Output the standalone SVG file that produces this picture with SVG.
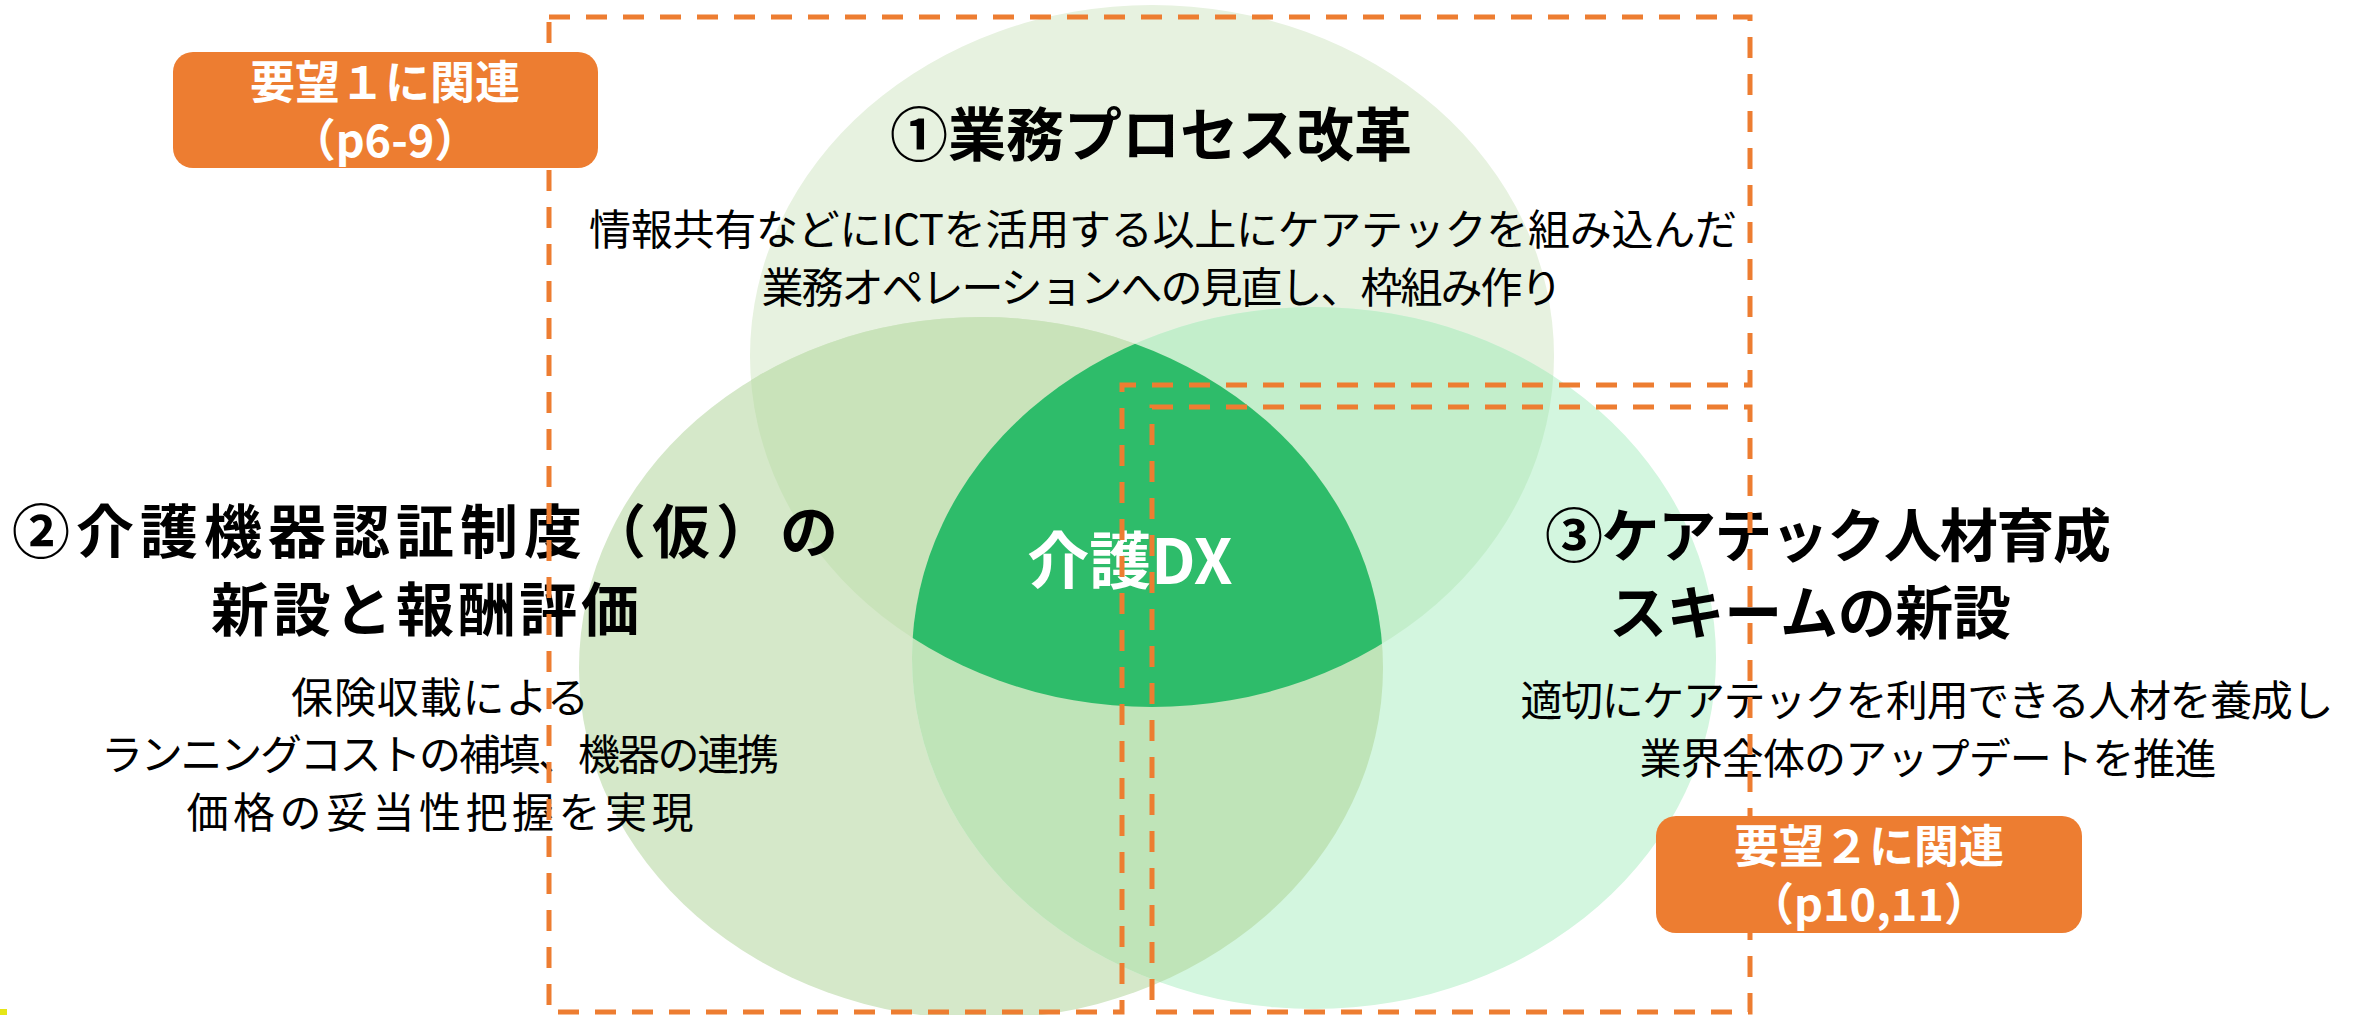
<svg xmlns="http://www.w3.org/2000/svg" xmlns:xlink="http://www.w3.org/1999/xlink" width="2359" height="1015" viewBox="0 0 2359 1015">
  <style>
    .title { font-family: "Noto Sans CJK JP", "Noto Sans", sans-serif; font-weight: 700; font-size: 58px; fill: #000000; text-anchor: middle; }
    .body { font-family: "Noto Sans CJK JP", "Noto Sans", sans-serif; font-weight: 400; font-size: 42px; fill: #000000; text-anchor: middle; }
    .badge-text { font-family: "Noto Sans CJK JP", "Noto Sans", sans-serif; font-weight: 700; font-size: 45px; fill: #FFFFFF; text-anchor: middle; }
    .center-text { font-family: "Noto Sans CJK JP", "Noto Sans", sans-serif; font-weight: 700; font-size: 62px; fill: #FFFFFF; text-anchor: middle; }
    .badge { fill: #ED7D31; }
    .group-outline { fill: none; stroke: #ED7D31; stroke-width: 5; stroke-dasharray: 21 16; }
  </style>
  <defs>
    <ellipse id="e1" cx="1152" cy="356" rx="402" ry="351"/>
    <ellipse id="e2" cx="981" cy="668" rx="402" ry="351"/>
    <ellipse id="e3" cx="1314" cy="658" rx="402" ry="351"/>
    <clipPath id="c1"><use xlink:href="#e1"/></clipPath>
    <clipPath id="c2"><use xlink:href="#e2"/></clipPath>
  </defs>
  <rect x="0" y="0" width="2359" height="1015" fill="#FFFFFF"/>

  <g id="venn">
    <use id="circle-1" xlink:href="#e1" fill="#E7F2E0"/>
    <use id="circle-2" xlink:href="#e2" fill="#D5E8C9"/>
    <use id="circle-3" xlink:href="#e3" fill="#D3F6DF"/>
    <g clip-path="url(#c1)"><use xlink:href="#e2" fill="#C9E3BA"/></g>
    <g clip-path="url(#c1)"><use xlink:href="#e3" fill="#C3EECB"/></g>
    <g clip-path="url(#c2)"><use xlink:href="#e3" fill="#BFE4B8"/></g>
    <g id="center-region" clip-path="url(#c1)"><g clip-path="url(#c2)"><use xlink:href="#e3" fill="#2EBC6A"/></g></g>
  </g>

  <g id="node-1">
    <text class="title" x="1151" y="156">①業務プロセス改革</text>
    <text class="body" x="1163" y="245" textLength="1148" lengthAdjust="spacing">情報共有などにICTを活用する以上にケアテックを組み込んだ</text>
    <text class="body" x="1162" y="303" textLength="801" lengthAdjust="spacing">業務オペレーションへの見直し、枠組み作り</text>
  </g>

  <g id="node-2">
    <text class="title" x="425" y="553" textLength="826" lengthAdjust="spacing">②介護機器認証制度（仮）の</text>
    <text class="title" x="425" y="631" textLength="428" lengthAdjust="spacing">新設と報酬評価</text>
    <text class="body" x="440" y="713" textLength="298" lengthAdjust="spacing">保険収載による</text>
    <text class="body" x="440" y="770" textLength="678" lengthAdjust="spacing">ランニングコストの補填、機器の連携</text>
    <text class="body" x="440" y="828" textLength="507" lengthAdjust="spacing">価格の妥当性把握を実現</text>
  </g>

  <g id="node-3">
    <text class="title" x="1828" y="557" textLength="566" lengthAdjust="spacing">③ケアテック人材育成</text>
    <text class="title" x="1810" y="634" textLength="402" lengthAdjust="spacing">スキームの新設</text>
    <text class="body" x="1927" y="716" textLength="813" lengthAdjust="spacing">適切にケアテックを利用できる人材を養成し</text>
    <text class="body" x="1928" y="774" textLength="577" lengthAdjust="spacing">業界全体のアップデートを推進</text>
  </g>

  <g id="node-center">
    <text class="center-text" x="1130" y="584">介護DX</text>
  </g>

  <g id="connectors">
    <path class="group-outline" d="M549,17 H1750 V385 H1122 V1012 H549 Z"/>
    <path class="group-outline" d="M1152,407 H1750 V1012 H1152 Z"/>
  </g>

  <g id="badge-1">
    <rect class="badge" x="173" y="52" width="425" height="116" rx="20" ry="20"/>
    <text class="badge-text" x="385" y="99">要望１に関連</text>
    <text class="badge-text" x="385" y="157">（p6-9）</text>
  </g>

  <g id="badge-2">
    <rect class="badge" x="1656" y="816" width="426" height="117" rx="20" ry="20"/>
    <text class="badge-text" x="1869" y="863">要望２に関連</text>
    <text class="badge-text" x="1869" y="921">（p10,11）</text>
  </g>

  <rect x="0" y="1009" width="7" height="6" fill="#E6E617"/>
</svg>
